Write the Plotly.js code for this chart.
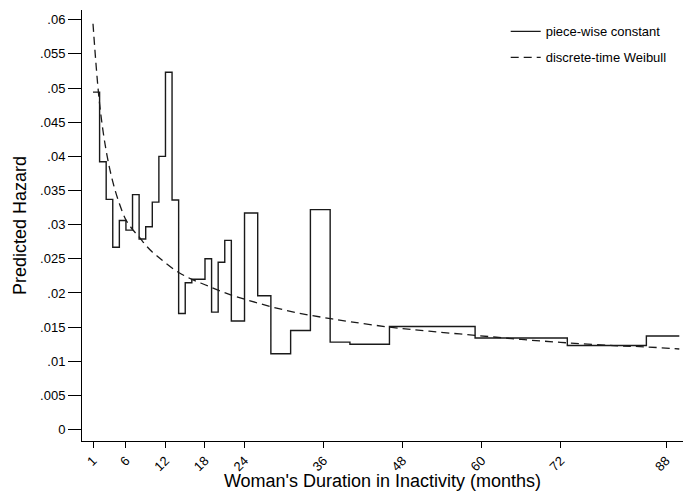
<!DOCTYPE html>
<html>
<head>
<meta charset="utf-8">
<script src="https://cdn.plot.ly/plotly-3.0.1.min.js"></script>
<style>
  html, body { margin: 0; padding: 0; background: #fff; }
  #chart { width: 687px; height: 491px; }
</style>
</head>
<body>
<div id="chart"></div>
<script>
// Piece-wise constant hazard: interval start months and hazard values
const pwcStart = [1, 2, 3, 4, 5, 6, 7, 8, 9, 10, 11, 12, 13, 14, 15, 16, 18, 19, 20, 21, 22, 24, 26, 28, 31, 34, 37, 40, 46, 59, 73, 85];
const pwcHazard = [0.0494, 0.0392, 0.0337, 0.0267, 0.0306, 0.0292, 0.0344, 0.0279, 0.0297, 0.0333, 0.0400, 0.0523, 0.0336, 0.0170, 0.0215, 0.0220, 0.0250, 0.0172, 0.0245, 0.0277, 0.0159, 0.0317, 0.0196, 0.0111, 0.0145, 0.0322, 0.0128, 0.0125, 0.0151, 0.0134, 0.0123, 0.0137];
const pwcEnd = 90;

// Discrete-time Weibull hazard read at selected months
const weibMonth = [1, 2, 3, 4, 5, 6, 7, 8, 9, 10, 11, 12, 14, 16, 18, 20, 22, 24, 28, 32, 36, 40, 46, 52, 59, 66, 73, 80, 85, 90];
const weibHazard = [0.0594, 0.0477, 0.0408, 0.0363, 0.0331, 0.0307, 0.0293, 0.0282, 0.0270, 0.0260, 0.0252, 0.0244, 0.0230, 0.0220, 0.0212, 0.0204, 0.0197, 0.0191, 0.0180, 0.0171, 0.0164, 0.0158, 0.0150, 0.0144, 0.0138, 0.0132, 0.0127, 0.0123, 0.0121, 0.0118];

// Tick labels
const xTickVals = [1, 6, 12, 18, 24, 36, 48, 60, 72, 88];
const xTickText = ["1", "6", "12", "18", "24", "36", "48", "60", "72", "88"];
const yTickVals = [0, 0.005, 0.01, 0.015, 0.02, 0.025, 0.03, 0.035, 0.04, 0.045, 0.05, 0.055, 0.06];
const yTickText = ["0", ".005", ".01", ".015", ".02", ".025", ".03", ".035", ".04", ".045", ".05", ".055", ".06"];

const stepX = pwcStart.concat([pwcEnd]);
const stepY = pwcHazard.concat([pwcHazard[pwcHazard.length - 1]]);

const font = "Liberation Sans, Arial, sans-serif";

const traces = [
  {
    x: stepX, y: stepY, type: "scatter", mode: "lines",
    line: { shape: "hv", color: "#1a1a1a", width: 1.4 },
    name: "piece-wise constant", legendgroup: "a"
  },
  {
    x: weibMonth, y: weibHazard, type: "scatter", mode: "lines",
    line: { shape: "spline", color: "#1a1a1a", width: 1.3, dash: "8px,5px" },
    name: "discrete-time Weibull", legendgroup: "b"
  }
];

const layout = {
  width: 687, height: 491,
  margin: { l: 82, r: 4, t: 10, b: 50 },
  paper_bgcolor: "#fff", plot_bgcolor: "#fff",
  font: { family: font, size: 13, color: "#000" },
  showlegend: true,
  legend: {
    x: 0.705, y: 0.985, xanchor: "left", yanchor: "top",
    bgcolor: "rgba(0,0,0,0)", borderwidth: 0,
    font: { family: font, size: 13, color: "#000" },
    tracegroupgap: 6
  },
  xaxis: {
    range: [-0.67, 90.56],
    tickmode: "array", tickvals: xTickVals, ticktext: xTickText,
    tickangle: -45, ticks: "outside", ticklen: 6, tickwidth: 1, tickcolor: "#000",
    showline: true, linecolor: "#000", linewidth: 1,
    showgrid: false, zeroline: false,
    tickfont: { family: font, size: 13, color: "#000" },
    title: { text: "Woman's Duration in Inactivity (months)", font: { family: font, size: 18, color: "#000" }, standoff: 6 }
  },
  yaxis: {
    range: [-0.00167, 0.06142],
    tickmode: "array", tickvals: yTickVals, ticktext: yTickText,
    ticks: "outside", ticklen: 13, tickwidth: 1, tickcolor: "#000",
    showline: true, linecolor: "#000", linewidth: 1,
    showgrid: false, zeroline: false,
    tickfont: { family: font, size: 13, color: "#000" },
    title: { text: "Predicted Hazard", font: { family: font, size: 18, color: "#000" }, standoff: 8 }
  }
};

Plotly.newPlot("chart", traces, layout, { displayModeBar: false, staticPlot: true });
</script>
</body>
</html>
